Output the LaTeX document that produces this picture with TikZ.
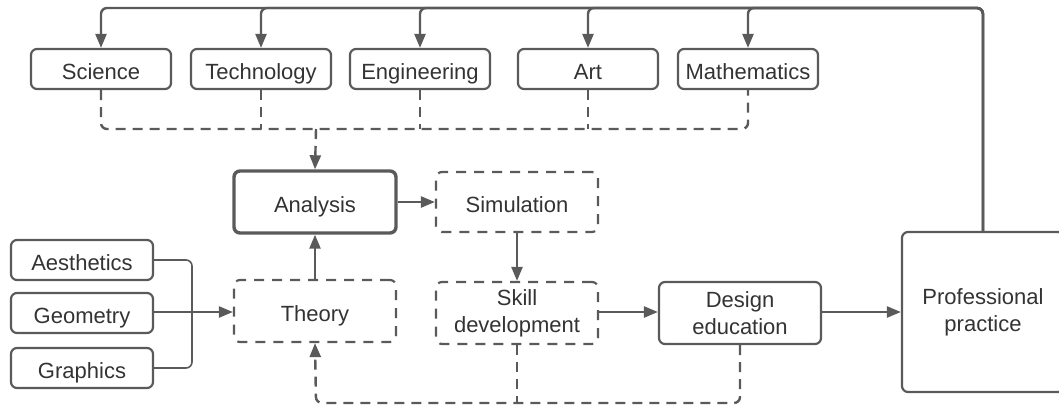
\documentclass[tikz,border=0pt]{standalone}
\usepackage{fontspec}
\setmainfont{Liberation Sans}
\usetikzlibrary{arrows.meta}
\definecolor{linegray}{HTML}{5A5A5A}
\definecolor{textgray}{HTML}{333333}
\tikzset{
    box/.style={draw=linegray, line width=1.1pt, rounded corners=3pt, text=textgray, align=center, inner sep=0pt, font=\fontsize{11}{13.5}\selectfont},
    oneline/.style={text height=10pt, text depth=0pt},
    topbox/.style={box, oneline, minimum width=70pt, minimum height=20pt},
    sidebox/.style={box, oneline, minimum width=71pt, minimum height=20pt},
    midbox/.style={box, minimum width=81pt, minimum height=31pt},
    dashbox/.style={midbox, dash pattern=on 5pt off 4pt},
    conn/.style={draw=linegray, line width=1.2pt, rounded corners=3pt},
    arrowconn/.style={conn, -{Triangle[length=7pt,width=5.5pt]}},
    dashconn/.style={conn, dash pattern=on 5pt off 3.5pt},
    dasharrow/.style={arrowconn, dash pattern=on 5pt off 3.5pt}
}

\begin{document}
\begin{tikzpicture}[x=0.5pt, y=-0.5pt]
            \useasboundingbox (0,0) rectangle (1059,407);

            % top row
            \node[topbox] (sci) at (101,69) {Science};
            \node[topbox] (tech) at (261,69) {Technology};
            \node[topbox] (eng) at (420,69) {Engineering};
            \node[topbox] (art) at (588,69) {Art};
            \node[topbox] (math) at (748,69) {Mathematics};

            % middle
            \node[midbox, oneline, line width=1.7pt] (ana) at (315,202) {Analysis};
            \node[dashbox, oneline, minimum height=30pt] (sim) at (517,202) {Simulation};
            \node[dashbox, oneline] (theory) at (315,311) {Theory};
            \node[dashbox] (skill) at (517,313) {Skill\\development};
            \node[midbox] (design) at (740,313) {Design\\education};
            \node[box, minimum width=81pt, minimum height=80pt] (prof) at (983,312) {Professional\\practice};

            % left column
            \node[sidebox] (aes) at (82,260) {Aesthetics};
            \node[sidebox] (geo) at (82,313) {Geometry};
            \node[sidebox] (graph) at (82,368) {Graphics};

            \coordinate (top) at (0,8);
            \coordinate (merge) at (316,129);
            \coordinate (fb) at (316,403);
            \coordinate (jn) at (192,312);

            % feedback from practice
            \draw[arrowconn] (prof.north) |- (sci.north |- top) -- (sci.north);
            \draw[arrowconn] (prof.north) |- (tech.north |- top) -- (tech.north);
            \draw[arrowconn] (prof.north) |- (eng.north |- top) -- (eng.north);
            \draw[arrowconn] (prof.north) |- (art.north |- top) -- (art.north);
            \draw[arrowconn] (prof.north) |- (math.north |- top) -- (math.north);

            % disciplines into analysis
            \draw[dashconn] (sci.south) |- (math.south |- merge) -- (math.south);
            \draw[dashconn] (tech.south) -- (tech.south |- merge);
            \draw[dashconn] (eng.south) -- (eng.south |- merge);
            \draw[dashconn] (art.south) -- (art.south |- merge);
            \draw[dasharrow] (merge) -- (ana.north);

            % main flow
            \draw[arrowconn] (ana) -- (sim);
            \draw[arrowconn] (sim) -- (skill);
            \draw[arrowconn] (theory) -- (ana);
            \draw[arrowconn] (skill.east |- jn) -- (design.west |- jn);
            \draw[arrowconn] (design.east |- jn) -- (prof.west |- jn);

            % left inputs
            \draw[conn, line width=0.8pt] (aes.east) -| (jn) |- (graph.east);
            \draw[arrowconn] (geo.east |- jn) -- (theory.west |- jn);

            % loop back to theory
            \draw[dashconn] (skill.south) -- (skill.south |- fb);
            \draw[dasharrow] (design.south) |- (fb) -- (theory.south);

        \end{tikzpicture}
\end{document}
